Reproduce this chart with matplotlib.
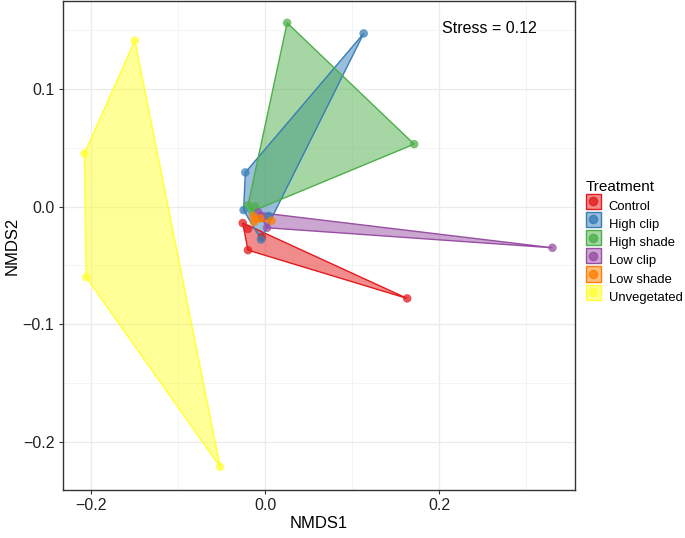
import matplotlib
matplotlib.use("Agg")
import matplotlib.pyplot as plt
from matplotlib.patches import Polygon, Rectangle
from matplotlib.lines import Line2D
from matplotlib.legend_handler import HandlerBase
import numpy as np

plt.rcParams['font.family'] = ['Liberation Sans', 'DejaVu Sans']

treatments = ["Control", "High clip", "High shade", "Low clip", "Low shade", "Unvegetated"]
colors = ["#E41A1C", "#377EB8", "#4DAF4A", "#984EA3", "#FF7F00", "#FFFF33"]

control_x = [-0.026, -0.020, -0.004, 0.163, -0.020]
control_y = [-0.014, -0.019, -0.026, -0.078, -0.037]
highclip_x = [0.113, -0.023, -0.025, -0.005, 0.004]
highclip_y = [0.147, 0.029, -0.003, -0.028, -0.008]
highshade_x = [0.025, 0.171, -0.015, -0.020, -0.012]
highshade_y = [0.156, 0.053, -0.004, 0.001, 0.000]
lowclip_x = [-0.008, 0.330, 0.002, -0.004]
lowclip_y = [-0.005, -0.035, -0.018, -0.009]
lowshade_x = [-0.014, 0.007, -0.013, -0.006]
lowshade_y = [-0.008, -0.012, -0.013, -0.010]
unveg_x = [-0.150, -0.208, -0.206, -0.052]
unveg_y = [0.141, 0.045, -0.060, -0.221]

xs = [control_x, highclip_x, highshade_x, lowclip_x, lowshade_x, unveg_x]
ys = [control_y, highclip_y, highshade_y, lowclip_y, lowshade_y, unveg_y]


def hull(px, py):
    pts = sorted(set(zip(px, py)))
    if len(pts) < 3:
        return pts
    def cross(o, a, b):
        return (a[0]-o[0])*(b[1]-o[1]) - (a[1]-o[1])*(b[0]-o[0])
    lower = []
    for p in pts:
        while len(lower) >= 2 and cross(lower[-2], lower[-1], p) <= 0:
            lower.pop()
        lower.append(p)
    upper = []
    for p in reversed(pts):
        while len(upper) >= 2 and cross(upper[-2], upper[-1], p) <= 0:
            upper.pop()
        upper.append(p)
    return lower[:-1] + upper[:-1]


fig = plt.figure(figsize=(6.85, 5.38), dpi=100)
ax = fig.add_axes([0.0915, 0.0892, 0.748, 0.909])

for px, py, c in zip(xs, ys, colors):
    h = hull(px, py)
    ax.add_patch(Polygon(h, closed=True, facecolor=c, alpha=0.5, edgecolor='none', zorder=2))
    ax.add_patch(Polygon(h, closed=True, facecolor='none', edgecolor=c, lw=1.0, zorder=3))
for px, py, c in zip(xs, ys, colors):
    ax.scatter(px, py, s=38, color=c, alpha=0.75, edgecolors='none', zorder=4)

ax.set_xlim(-0.233, 0.356)
ax.set_ylim(-0.2407, 0.1746)
ax.set_xticks([-0.2, 0.0, 0.2])
ax.set_xticks([-0.1, 0.1, 0.3], minor=True)
ax.set_yticks([-0.2, -0.1, 0.0, 0.1])
ax.set_yticks([-0.15, -0.05, 0.05, 0.15], minor=True)
ax.grid(True, which='major', color='#EBEBEB', lw=0.9)
ax.grid(True, which='minor', color='#F3F3F3', lw=0.6)
ax.set_axisbelow(True)
ax.tick_params(which='minor', length=0)
ax.tick_params(which='major', length=3, width=0.8, color='#333333', labelsize=11.5, labelcolor='#222222', pad=3)
ax.set_xticklabels(["\u22120.2", "0.0", "0.2"])
ax.set_yticklabels(["\u22120.2", "\u22120.1", "0.0", "0.1"])
for s in ax.spines.values():
    s.set_color('#333333')
    s.set_linewidth(1.0)
ax.set_xlabel("NMDS1", fontsize=12, labelpad=2)
ax.set_ylabel("NMDS2", fontsize=12, labelpad=2)
ax.text(0.203, 0.151, "Stress = 0.12", fontsize=11.5, va='center', ha='left')


class KeyHandler(HandlerBase):
    def create_artists(self, legend, orig, xd, yd, w, h, fs, trans):
        c = orig.get_color()
        sz = min(w, h) + 1.5
        x0 = xd + (w - sz) / 2
        y0 = yd + (h - sz) / 2
        r = Rectangle((x0, y0), sz, sz, facecolor=c, alpha=0.5, edgecolor='none', transform=trans)
        r2 = Rectangle((x0, y0), sz, sz, facecolor='none', edgecolor=c, lw=1.0, transform=trans)
        d = Line2D([x0 + sz/2], [y0 + sz/2], marker='o', ms=6, color=c, alpha=0.8, ls='none', transform=trans)
        return [r, r2, d]

handles = [Line2D([], [], color=c) for c in colors]
leg = fig.legend(handles, treatments, handler_map={Line2D: KeyHandler()},
                 loc='center left', bbox_to_anchor=(0.855, 0.55), frameon=False,
                 title="Treatment", fontsize=9.4, title_fontsize=11,
                 handlelength=1.15, handleheight=1.15, handletextpad=0.6, labelspacing=0.33,
                 borderpad=0, borderaxespad=0)
leg._legend_box.align = "left"

fig.savefig("out.png", dpi=100)
